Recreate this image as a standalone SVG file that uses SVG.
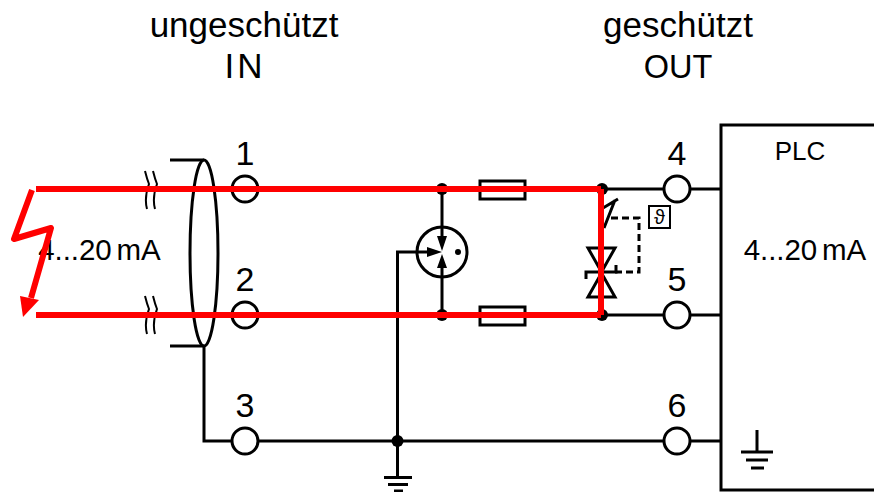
<svg xmlns="http://www.w3.org/2000/svg" width="874" height="492" viewBox="0 0 874 492">
<style>
text{font-family:"Liberation Sans",Arial,sans-serif;fill:#000;text-anchor:middle}
.t{font-size:35px}
.n{font-size:34px}
.m{font-size:29.500px;word-spacing:-3px;letter-spacing:-.1px}
.w{fill:none;stroke:#000;stroke-width:3}
.k{fill:none;stroke:#000;stroke-width:2}
.f{fill:#fff;stroke:#000;stroke-width:3}
.d{fill:#000}
.a{fill:#000;stroke:none}
.r{fill:none;stroke:#f00;stroke-width:6}
</style>
<rect width="874" height="492" fill="#fff"/>
<g id="labels">
<text class="t" x="244" y="37">ungeschützt</text>
<text class="t" x="245" y="78" letter-spacing="3">IN</text>
<text class="t" x="678" y="37">geschützt</text>
<text x="678" y="78" font-size="32.500">OUT</text>
</g>
<g id="connectors">
<path class="w" d="M204 346V441H232M258 441H664M690 441H721M397.500 478V252H430M442 189V238M442 266V315M601 189H664M690 189H721M601 315H664M690 315H721M170 160H204M170 346H204"/>
<path class="w" d="M604 228L615 200M603 208L618 199"/>
<path class="w" stroke-dasharray="7 4" d="M611 218H639V272H615"/>
<circle class="d" cx="397.500" cy="441" r="6"/>
<circle class="d" cx="442" cy="189" r="6"/>
<circle class="d" cx="442" cy="315" r="6"/>
<circle class="d" cx="602" cy="189" r="6"/>
<circle class="d" cx="602" cy="315" r="6"/>
<path class="k" d="M145 171Q147 179 149 184Q144 198 147 209M153 171Q155 179 157 184Q152 198 155 209M145 296Q147 304 149 309Q144 323 147 334M153 296Q155 304 157 309Q152 323 155 334"/>
</g>
<g id="cable">
<ellipse class="w" cx="204" cy="253" rx="14" ry="93"/>
</g>
<g id="t1"><circle class="f" cx="245" cy="189" r="13"/><text class="n" x="245" y="165">1</text></g>
<g id="t2"><circle class="f" cx="245" cy="315" r="13"/><text class="n" x="245" y="291">2</text></g>
<g id="t3"><circle class="f" cx="245" cy="441" r="13"/><text class="n" x="245" y="417">3</text></g>
<g id="t4"><circle class="f" cx="677" cy="189" r="13"/><text class="n" x="677" y="165">4</text></g>
<g id="t5"><circle class="f" cx="677" cy="315" r="13"/><text class="n" x="677" y="291">5</text></g>
<g id="t6"><circle class="f" cx="677" cy="441" r="13"/><text class="n" x="677" y="417">6</text></g>
<g id="transistor">
<circle class="w" cx="442" cy="252" r="25"/>
<path class="a" d="M442 251L437 236H447ZM442 252L427 247V257ZM442 254L437 268H447Z"/>
<circle class="d" cx="458" cy="252" r="3"/>
</g>
<g id="fuse1"><rect class="f" x="480" y="181" width="45" height="18"/></g>
<g id="fuse2"><rect class="f" x="480" y="307" width="45" height="18"/></g>
<g id="tvs">
<path class="w" d="M588 248H615L601.500 272ZM588 297H615L601.500 273ZM586 279V272H616V265"/>
</g>
<g id="temp">
<rect class="k" x="649" y="206" width="21" height="22"/>
<text x="659.500" y="223.500" font-size="20">ϑ</text>
</g>
<g id="plc">
<path class="w" d="M874 125H721V490H874"/>
<text x="800" y="160" font-size="26">PLC</text>
<text class="m" x="805" y="260">4...20 mA</text>
<path class="w" d="M757 430V452M741 452H773M746 460H768M751 468H764"/>
</g>
<g id="ground"><path class="w" d="M384 477.500H412M388 484.500H408M394 491H403"/></g>
<text class="m" x="99.500" y="260">4...20 mA</text>
<g id="red">
<path class="r" d="M36 189H601M36 315H601M601 189V315"/>
<path class="r" stroke-linejoin="round" stroke-width="7" d="M32 190L14 239L51 228L31 298"/>
<path d="M23 317L20 296L39 300Z" fill="#f00"/>
</g>
</svg>
